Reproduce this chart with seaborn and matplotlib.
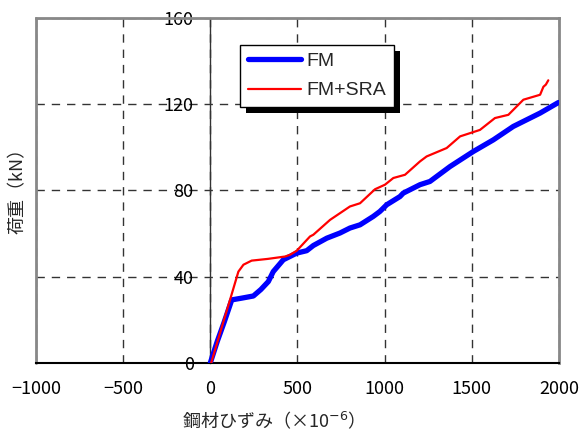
import matplotlib.pyplot as plt
import pandas as pd
import seaborn as sns
from matplotlib.patches import Rectangle
from matplotlib.transforms import IdentityTransform

# strain (x10^-6) vs load (kN)
fm_strain = [0, 40, 80, 123, 180, 247, 290, 333, 361, 419, 496, 553, 591, 668,
             744, 801, 859, 935, 973, 1012, 1088, 1107, 1203, 1260, 1375, 1509,
             1624, 1738, 1892, 1997]
fm_load = [0, 10, 19, 29.2, 30, 31, 34, 37.7, 42.3, 47.8, 50.9, 52, 54.4, 57.8,
           60.2, 62.5, 64, 67.9, 70.2, 73.3, 77.1, 78.7, 82.6, 84.1, 91, 98,
           103.4, 109.6, 115.8, 120.7]

sra_strain = [5, 60, 113, 161, 190, 237, 330, 429, 457, 496, 572, 591, 687, 801,
              859, 945, 1002, 1050, 1117, 1203, 1241, 1356, 1433, 1547, 1633,
              1710, 1796, 1892, 1911, 1925, 1939]
sra_load = [0, 15, 29.2, 42.3, 45.5, 47.4, 48.2, 49.3, 50.1, 52, 58.6, 59.4,
            66.3, 72.5, 74, 80.5, 82.6, 85.7, 87.2, 93.4, 95.7, 99.6, 105, 108,
            113.5, 115, 122, 124.3, 128, 129, 131]

x_ticks = [-1000, -500, 0, 500, 1000, 1500, 2000]
y_ticks = [0, 40, 80, 120, 160]

df = pd.concat([
    pd.DataFrame({"strain": fm_strain, "load": fm_load, "series": "FM"}),
    pd.DataFrame({"strain": sra_strain, "load": sra_load, "series": "FM+SRA"}),
])

sns.set_style("white")
plt.rcParams["font.family"] = ["Noto Sans CJK JP", "DejaVu Sans"]
plt.rcParams["font.size"] = 13

fig = plt.figure(figsize=(5.81, 4.33), dpi=100)
ax = fig.add_axes([0.062, 0.162, 0.900, 0.797])

sns.lineplot(data=df, x="strain", y="load", hue="series", size="series",
             palette={"FM": "#0000ff", "FM+SRA": "#ff0000"},
             sizes={"FM": 3.8, "FM+SRA": 1.6},
             sort=False, estimator=None, ax=ax, zorder=3)

ax.set_xlim(-1000, 2000)
ax.set_ylim(0, 160)
ax.set_xticks(x_ticks)
ax.set_yticks(y_ticks)

ax.grid(True, color="#333333", linestyle=(0, (6, 5)), linewidth=1)

# y axis drawn at x = 0, outer frame in gray
ax.spines["left"].set_position(("data", 0))
ax.spines["left"].set_color("#333333")
ax.spines["left"].set_linewidth(1)
for side in ["top", "right"]:
    ax.spines[side].set_color("#888888")
    ax.spines[side].set_linewidth(2)
ax.spines["bottom"].set_color("black")
ax.spines["bottom"].set_linewidth(1.5)
ax.axvline(-1000, color="#888888", lw=2, clip_on=False, zorder=2)

ax.tick_params(axis="x", direction="in", length=6, width=1, pad=12,
               labelsize=13, colors="black")
ax.tick_params(axis="y", direction="in", length=6, width=1, pad=12,
               labelsize=13, colors="black")

ax.set_xlabel("鋼材ひずみ（×10$^{-6}$）", fontsize=13)
ax.set_ylabel("荷重（kN）", fontsize=13, va="center")
ax.xaxis.set_label_coords(0.444, -0.135)
ax.yaxis.set_label_coords(-0.034, 0.51)

leg = ax.legend(loc="upper left", bbox_to_anchor=(0.39, 0.922), frameon=True,
                fancybox=False, edgecolor="black", framealpha=1,
                handlelength=2.75, handletextpad=0.25, labelspacing=0.6,
                borderpad=0.4, borderaxespad=0,
                prop={"family": ["Liberation Sans", "DejaVu Sans"], "size": 14})
leg.get_frame().set_linewidth(1)
leg.set_zorder(6)

# solid black drop shadow behind the legend
fig.canvas.draw()
bb = leg.get_window_extent()
ax.add_patch(Rectangle((bb.x0 + 6, bb.y0 - 6), bb.width, bb.height,
                       transform=IdentityTransform(), facecolor="black",
                       edgecolor="none", zorder=5.5, clip_on=False))

fig.savefig("out.png", dpi=100)
